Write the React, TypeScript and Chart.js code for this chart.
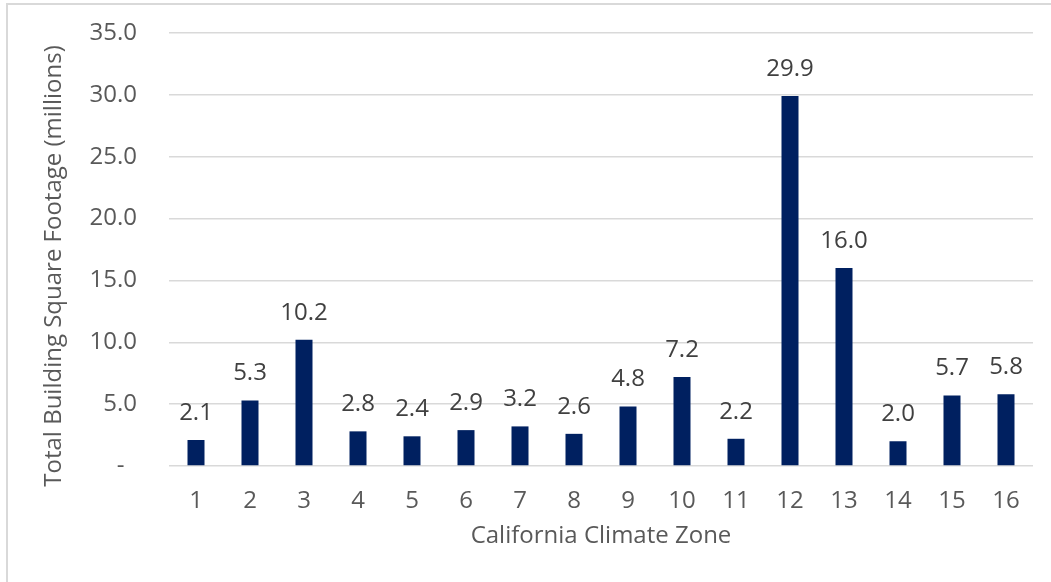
import { useEffect, useRef } from "react";
import { Chart, registerables } from "chart.js";

Chart.register(...registerables);

// Building floor area by California climate zone
const zones = ["1", "2", "3", "4", "5", "6", "7", "8", "9", "10", "11", "12", "13", "14", "15", "16"];
const sqftMillions = [2.1, 5.3, 10.2, 2.8, 2.4, 2.9, 3.2, 2.6, 4.8, 7.2, 2.2, 29.9, 16.0, 2.0, 5.7, 5.8];
const yMin = 0;
const yMax = 35;
const yStep = 5;
const xTitle = "California Climate Zone";
const yTitle = "Total Building Square Footage (millions)";

const FONT = "'Open Sans', 'Liberation Sans', Arial, sans-serif";
const TICK_COLOR = "#595959";
const LABEL_COLOR = "#404040";
const BAR_COLOR = "#002060";
const GRID_COLOR = "#d9d9d9";

// Light frame on the left and top edges of the chart
const framePlugin = {
  id: "frame",
  beforeDraw(chart: any) {
    const { ctx } = chart;
    ctx.save();
    ctx.strokeStyle = GRID_COLOR;
    ctx.lineWidth = 2;
    ctx.beginPath();
    ctx.moveTo(7, chart.height);
    ctx.lineTo(7, 4);
    ctx.lineTo(chart.width, 4);
    ctx.stroke();
    ctx.restore();
  },
};

// Value labels above each bar
const valueLabelPlugin = {
  id: "valueLabels",
  afterDatasetsDraw(chart: any) {
    const { ctx } = chart;
    const meta = chart.getDatasetMeta(0);
    const values = chart.data.datasets[0].data as number[];
    ctx.save();
    ctx.font = `24px ${FONT}`;
    ctx.fillStyle = LABEL_COLOR;
    ctx.textAlign = "center";
    ctx.textBaseline = "middle";
    meta.data.forEach((bar: any, i: number) => {
      ctx.fillText(values[i].toFixed(1), bar.x, bar.y - 27);
    });
    ctx.restore();
  },
};

// Axis titles
const axisTitlePlugin = {
  id: "axisTitles",
  afterDraw(chart: any) {
    const { ctx, chartArea } = chart;
    ctx.save();
    ctx.font = `24px ${FONT}`;
    ctx.fillStyle = TICK_COLOR;
    ctx.textAlign = "center";
    ctx.textBaseline = "middle";
    ctx.fillText(xTitle, (chartArea.left + chartArea.right) / 2, 536);
    ctx.translate(54.5, 266);
    ctx.rotate(-Math.PI / 2);
    ctx.fillText(yTitle, 0, 0);
    ctx.restore();
  },
};

export default function App() {
  const canvasRef = useRef<HTMLCanvasElement | null>(null);

  useEffect(() => {
    if (!canvasRef.current) return;
    const chart = new Chart(canvasRef.current, {
      type: "bar",
      data: {
        labels: zones,
        datasets: [
          {
            data: sqftMillions,
            backgroundColor: BAR_COLOR,
            borderWidth: 0,
            categoryPercentage: 1,
            barPercentage: 0.315,
          },
        ],
      },
      options: {
        responsive: false,
        animation: false,
        layout: { padding: { top: 33, right: 18, left: 0, bottom: 0 } },
        plugins: {
          legend: { display: false },
          tooltip: { enabled: false },
        },
        scales: {
          x: {
            grid: { display: false },
            border: { display: false },
            ticks: {
              color: TICK_COLOR,
              font: { family: FONT, size: 24 },
              padding: 13,
              maxRotation: 0,
              autoSkip: false,
            },
            afterFit(scale: any) {
              scale.height = 116;
              scale.paddingLeft = 0;
              scale.paddingRight = 0;
            },
          },
          y: {
            min: yMin,
            max: yMax,
            grid: { color: GRID_COLOR, lineWidth: 1.5, drawTicks: false },
            border: { display: false },
            ticks: {
              stepSize: yStep,
              color: TICK_COLOR,
              font: { family: FONT, size: 24 },
              padding: 32,
              callback: (v: any) => (Number(v) === 0 ? "-  " : Number(v).toFixed(1)),
            },
            afterFit(scale: any) {
              scale.width = 169;
              scale.paddingTop = 0;
              scale.paddingBottom = 0;
            },
          },
        },
      },
      plugins: [framePlugin, valueLabelPlugin, axisTitlePlugin],
    });
    return () => chart.destroy();
  }, []);

  return (
    <div style={{ position: "fixed", left: 0, top: 0, width: 1051, height: 582, background: "#ffffff" }}>
      <canvas ref={canvasRef} width={1051} height={582} style={{ width: 1051, height: 582 }} />
    </div>
  );
}
